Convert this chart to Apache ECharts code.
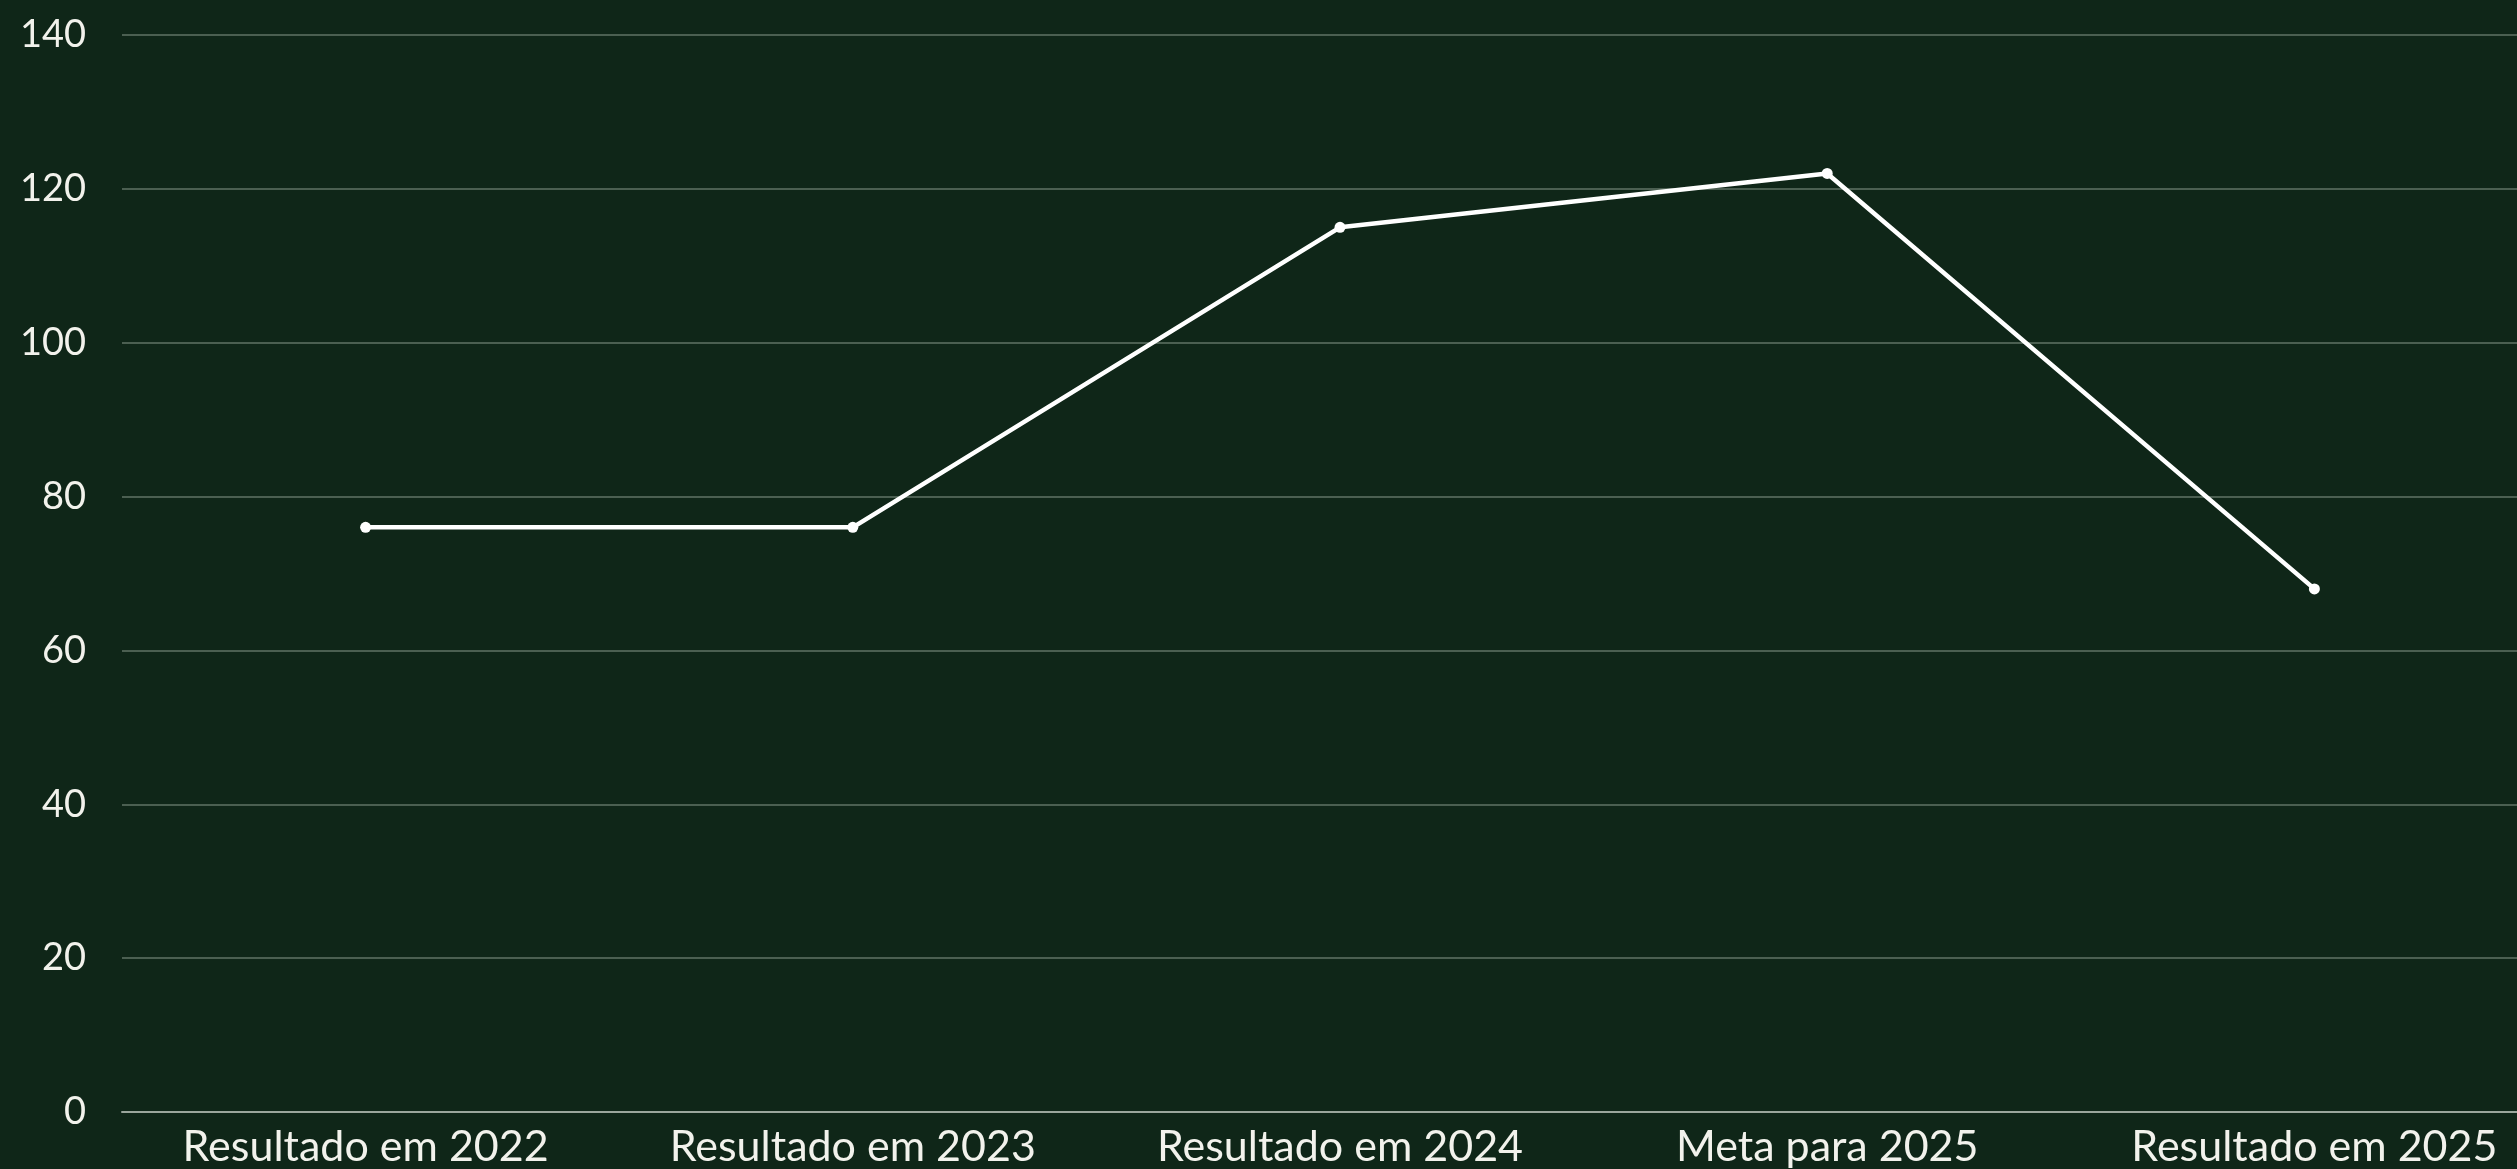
<!DOCTYPE html>
<html>
<head>
<meta charset="utf-8">
<script src="https://cdn.jsdelivr.net/npm/echarts@6/dist/echarts.min.js"></script>
<style>
  html, body { margin: 0; padding: 0; background: #0f2618; overflow: hidden; }
  /* plot runs past the right edge of the page in the reference */
  #chart { width: 2558px; height: 1169px; }
</style>
</head>
<body>
<div id="chart"></div>
<script>
// categories + values
const categories = ['Resultado em 2022', 'Resultado em 2023', 'Resultado em 2024', 'Meta para 2025', 'Resultado em 2025']
const values = [76, 76, 115, 122, 68]

const FONT = "Lato, 'Noto Sans', sans-serif"
const INK = '#f2f2ec'

const chart = echarts.init(document.getElementById('chart'), null, { renderer: 'canvas' })

chart.setOption({
  backgroundColor: '#0f2618',
  textStyle: { fontFamily: FONT },
  animation: false,
  grid: { left: 122, right: 0, top: 35, bottom: 56, containLabel: false },
  xAxis: {
    type: 'category',
    data: categories,
    boundaryGap: true,
    axisLine: { lineStyle: { color: '#9aa69c', width: 2 } },
    axisTick: { show: false },
    axisLabel: { color: INK, fontSize: 43, fontFamily: FONT, margin: 14, interval: 0 },
  },
  yAxis: {
    type: 'value',
    min: 0, max: 140, interval: 20,
    axisLine: { show: false },
    axisTick: { show: false },
    splitLine: { lineStyle: { color: '#4b5f51', width: 2, type: 'solid' } },
    axisLabel: { color: INK, fontSize: 38, fontFamily: FONT, margin: 36 },
  },
  series: [{
    type: 'line',
    data: values,
    lineStyle: { width: 4.5, color: '#ffffff' },
    itemStyle: { color: '#ffffff' },
    symbol: 'circle', symbolSize: 11, showSymbol: true,
  }],
})
</script>
</body>
</html>
